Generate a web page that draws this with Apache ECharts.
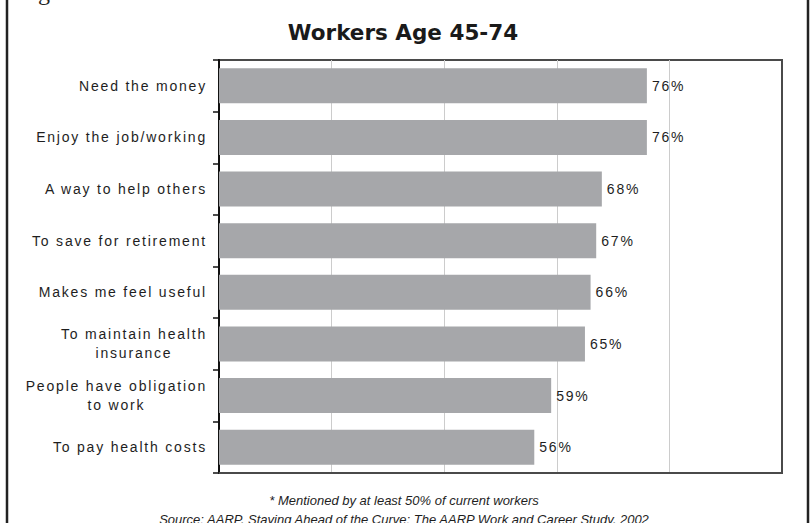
<!DOCTYPE html>
<html>
<head>
<meta charset="utf-8">
<script src="https://cdn.jsdelivr.net/npm/echarts@6/dist/echarts.min.js"></script>
<style>
  html, body { margin: 0; padding: 0; background: #fff; }
  #chart { width: 812px; height: 523px; }
  /* the source chart uses loosely spaced label text */
  #chart text { letter-spacing: 1.8px; }
  #chart text[style*="bold"], #chart text[style*="italic"], #chart text[style*="Serif"] { letter-spacing: 0; }
</style>
</head>
<body>
<div id="chart"></div>
<script>
// data
const categories = [
  'Need the money',
  'Enjoy the job/working',
  'A way to help others',
  'To save for retirement',
  'Makes me feel useful',
  'To maintain health\ninsurance',
  'People have obligation\nto work',
  'To pay health costs'
];
const percents = [76, 76, 68, 67, 66, 65, 59, 56];
const xTickValues = [0, 20, 40, 60, 80, 100];

const titleText = 'Workers Age 45-74';
const note1 = '* Mentioned by at least 50% of current workers';
const note2 = 'Source: AARP, Staying Ahead of the Curve: The AARP Work and Career Study, 2002';

var chartDom = document.getElementById('chart');
var myChart = echarts.init(chartDom, null, { renderer: 'svg' });
var option;

const labelFont = 'Liberation Sans';
const spacing = 1.8; // same as the css letter-spacing above

// two-line labels are centred line by line; the right padding makes up
// for the extra width that the letter spacing adds around the centre
var richLabels = {};
categories.forEach(function (c, i) {
    var lines = c.split('\n');
    if (lines.length > 1) {
        var n = Math.max.apply(null, lines.map(function (s) { return s.length; }));
        richLabels['c' + i] = {
            align: 'center',
            padding: [0, n * spacing / 2, 0, 0],
            fontFamily: labelFont,
            fontSize: 14,
            lineHeight: 19,
            color: '#1e1e1e'
        };
    }
});

option = {
    animation: false,
    backgroundColor: '#fff',
    title: {
        text: titleText,
        left: 398,
        textAlign: 'center',
        top: 16,
        textStyle: {
            fontFamily: 'DejaVu Sans',
            fontWeight: 'bold',
            fontSize: 21.5,
            color: '#1a1a1a'
        }
    },
    grid: {
        left: 219,
        right: 30,
        top: 60,
        bottom: 50,
        containLabel: false,
        outerBoundsMode: 'none',
        show: true,
        borderColor: '#4a4a4a',
        borderWidth: 2
    },
    xAxis: {
        type: 'value',
        min: xTickValues[0],
        max: xTickValues[xTickValues.length - 1],
        interval: xTickValues[1] - xTickValues[0],
        axisLabel: { show: false },
        axisTick: { show: false },
        axisLine: { show: true, lineStyle: { color: '#4a4a4a', width: 2 } },
        splitLine: {
            show: true,
            showMinLine: false,
            showMaxLine: false,
            lineStyle: { color: '#cccccc', width: 1 }
        }
    },
    yAxis: {
        type: 'category',
        inverse: true,
        data: categories,
        axisLine: { show: true, lineStyle: { color: '#111', width: 2 } },
        axisTick: { show: true, length: 6, lineStyle: { color: '#111', width: 1.5 } },
        axisLabel: {
            margin: 12,
            fontFamily: labelFont,
            fontSize: 14,
            color: '#1e1e1e',
            formatter: function (v, i) {
                if (v.indexOf('\n') < 0) {
                    return v;
                }
                return v.split('\n').map(function (s) { return '{c' + i + '|' + s + '}'; }).join('\n');
            },
            rich: richLabels
        }
    },
    series: [
        {
            type: 'bar',
            data: percents,
            barCategoryGap: '32%',
            itemStyle: { color: '#a6a7aa' },
            label: {
                show: true,
                position: 'right',
                distance: 5,
                formatter: '{c}%',
                fontFamily: labelFont,
                fontSize: 14,
                color: '#1e1e1e'
            }
        }
    ],
    graphic: [
        {
            type: 'line',
            shape: { x1: 7, y1: 0, x2: 7, y2: 523 },
            style: { stroke: '#222', lineWidth: 2.5 }
        },
        {
            type: 'line',
            shape: { x1: 808, y1: 0, x2: 808, y2: 523 },
            style: { stroke: '#222', lineWidth: 2.5 }
        },
        {
            type: 'text',
            left: 38,
            top: -20,
            style: { text: 'g', font: '24px "Liberation Serif"', fill: '#222' }
        },
        {
            type: 'text',
            x: 404,
            y: 500,
            style: {
                text: note1,
                font: 'italic 13px "Liberation Sans"',
                fill: '#1e1e1e',
                textAlign: 'center',
                textVerticalAlign: 'middle'
            }
        },
        {
            type: 'text',
            x: 404,
            y: 519,
            style: {
                text: note2,
                font: 'italic 13px "Liberation Sans"',
                fill: '#1e1e1e',
                textAlign: 'center',
                textVerticalAlign: 'middle'
            }
        }
    ]
};

myChart.setOption(option);
</script>
</body>
</html>
